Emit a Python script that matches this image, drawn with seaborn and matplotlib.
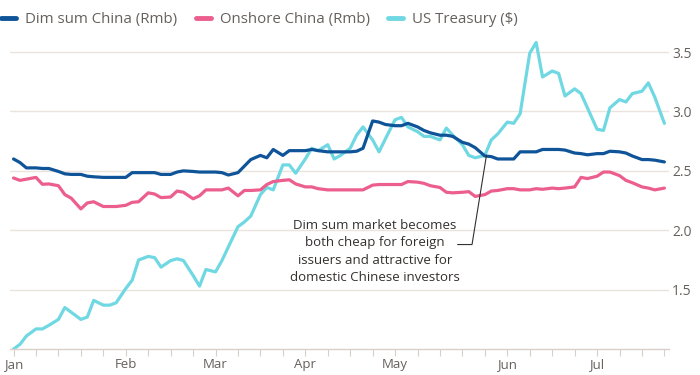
import numpy as np
import pandas as pd
import matplotlib
matplotlib.use("Agg")
import matplotlib.pyplot as plt
import matplotlib.dates as mdates
from matplotlib.lines import Line2D
import seaborn as sns

# Daten: Mo/Mi/Fr, 3. Jan - 25. Jul 2022
dates = pd.date_range("2022-01-03", "2022-07-25",
                      freq=pd.offsets.CustomBusinessDay(weekmask="Mon Wed Fri"))

us_treasury = [
    1.00, 1.04, 1.11, 1.17, 1.17, 1.20, 1.25, 1.35, 1.31, 1.25, 1.27, 1.41,
    1.37, 1.37, 1.39, 1.51, 1.58, 1.75, 1.78, 1.77, 1.69, 1.745, 1.76, 1.745,
    1.62, 1.53, 1.67, 1.65, 1.745, 1.86, 2.03, 2.07, 2.12, 2.30, 2.36, 2.34,
    2.55, 2.55, 2.48, 2.60, 2.69, 2.67, 2.72, 2.60, 2.63, 2.69, 2.80, 2.87,
    2.76, 2.66, 2.77, 2.93, 2.95, 2.87, 2.83, 2.79, 2.79, 2.76, 2.86, 2.80,
    2.72, 2.63, 2.61, 2.63, 2.76, 2.81, 2.91, 2.90, 2.98, 3.49, 3.58, 3.29,
    3.34, 3.32, 3.13, 3.19, 3.15, 3.03, 2.85, 2.84, 3.03, 3.10, 3.08, 3.15,
    3.17, 3.24, 3.12, 2.90,
]
dim_sum = [
    2.60, 2.57, 2.525, 2.525, 2.52, 2.52, 2.495, 2.475, 2.47, 2.47, 2.455, 2.45,
    2.445, 2.445, 2.445, 2.445, 2.485, 2.485, 2.485, 2.485, 2.47, 2.47, 2.49, 2.50,
    2.495, 2.49, 2.49, 2.49, 2.485, 2.465, 2.485, 2.54, 2.595, 2.63, 2.61, 2.68,
    2.63, 2.67, 2.67, 2.67, 2.68, 2.67, 2.66, 2.66, 2.66, 2.66, 2.665, 2.69,
    2.92, 2.91, 2.89, 2.88, 2.88, 2.90, 2.87, 2.84, 2.82, 2.80, 2.80, 2.79,
    2.74, 2.725, 2.695, 2.625, 2.62, 2.60, 2.60, 2.60, 2.66, 2.66, 2.66, 2.68,
    2.68, 2.68, 2.675, 2.65, 2.645, 2.635, 2.645, 2.645, 2.665, 2.66, 2.65, 2.625,
    2.595, 2.595, 2.59, 2.575,
]
onshore = [
    2.44, 2.42, 2.43, 2.445, 2.387, 2.39, 2.375, 2.30, 2.27, 2.18, 2.23, 2.24,
    2.20, 2.20, 2.20, 2.21, 2.235, 2.24, 2.315, 2.305, 2.275, 2.28, 2.33, 2.32,
    2.265, 2.29, 2.34, 2.34, 2.34, 2.355, 2.29, 2.335, 2.335, 2.34, 2.385, 2.41,
    2.42, 2.425, 2.39, 2.365, 2.365, 2.35, 2.34, 2.34, 2.34, 2.34, 2.34, 2.34,
    2.38, 2.385, 2.385, 2.385, 2.385, 2.41, 2.405, 2.395, 2.375, 2.36, 2.32, 2.315,
    2.32, 2.325, 2.285, 2.30, 2.33, 2.335, 2.35, 2.35, 2.34, 2.34, 2.35, 2.345,
    2.355, 2.35, 2.355, 2.365, 2.445, 2.435, 2.455, 2.49, 2.49, 2.46, 2.42, 2.40,
    2.365, 2.355, 2.34, 2.355,
]

series_names = ["Dim sum China (Rmb)", "Onshore China (Rmb)", "US Treasury ($)"]
colors = ["#0f5499", "#eb5e8d", "#6fd8e2"]
y_ticks = [1.5, 2.0, 2.5, 3.0, 3.5]
note = ("Dim sum market becomes\nboth cheap for foreign\n"
        "issuers and attractive for\ndomestic Chinese investors")

df = pd.DataFrame({"date": dates,
                   series_names[0]: dim_sum,
                   series_names[1]: onshore,
                   series_names[2]: us_treasury})
long_df = df.melt(id_vars="date", var_name="series", value_name="yield")

sns.set_theme(style="white")
plt.rcParams["font.family"] = ["Open Sans", "DejaVu Sans"]
grey = "#66605c"

fig = plt.figure(figsize=(7, 3.75), dpi=100)
ax = fig.add_axes([0.014, 0.069, 0.942, 0.824])

# Reihenfolge: Treasury unten, Dim sum oben
for name, col, z in zip(series_names, colors, [4, 3, 2]):
    sns.lineplot(data=long_df[long_df["series"] == name], x="date", y="yield",
                 color=col, linewidth=2.3, ax=ax, zorder=z, legend=False)

ax.set_xlim(pd.Timestamp("2022-01-01 20:00"), pd.Timestamp("2022-07-26 12:00"))
ax.set_ylim(1.0, 3.6)
ax.set_xlabel("")
ax.set_ylabel("")

# y-Achse rechts
ax.yaxis.tick_right()
ax.set_yticks(y_ticks)
ax.set_yticklabels([f"{v:.1f}" for v in y_ticks])
ax.tick_params(axis="y", length=0, pad=2, labelsize=10, labelcolor=grey)
ax.grid(axis="y", color="#ebe4dd", linewidth=1)
ax.set_axisbelow(True)

# x-Achse: Wochen-Ticks, Monatslabel am ersten Montag
month_ticks = [d for d in dates if d.weekday() == 0 and d.day <= 7]
ax.set_xticks(month_ticks)
ax.set_xticklabels([d.strftime("%b") for d in month_ticks])
ax.xaxis.set_minor_locator(mdates.WeekdayLocator(byweekday=mdates.MO))
ax.tick_params(axis="x", which="both", bottom=True, length=5, width=0.8,
               color="#d8d0c8", pad=1.5, labelsize=9.5, labelcolor=grey)

for s in ["top", "left", "right"]:
    ax.spines[s].set_visible(False)
ax.spines["bottom"].set_color("#d8d0c8")
ax.spines["bottom"].set_linewidth(1)

# Annotation
ax.text(pd.Timestamp("2022-04-25 16:00"), 1.82, note, ha="center", va="center",
        fontsize=9.5, color="#33302e", linespacing=1.45, zorder=6)
ax.plot([pd.Timestamp("2022-05-21 12:00"), pd.Timestamp("2022-05-26"),
         pd.Timestamp("2022-05-30 12:00")], [1.88, 1.88, 2.63],
        color="#33302e", linewidth=0.8, zorder=5)

handles = [Line2D([0], [0], color=c, linewidth=3.5) for c in colors]
fig.legend(handles, series_names, loc="upper left", bbox_to_anchor=(-0.016, 1.0),
           ncol=3, frameon=False, fontsize=10.8, handlelength=1.0,
           handletextpad=0.6, columnspacing=1.25, labelcolor=grey,
           borderaxespad=0.4)

fig.savefig("out.png", dpi=100)
